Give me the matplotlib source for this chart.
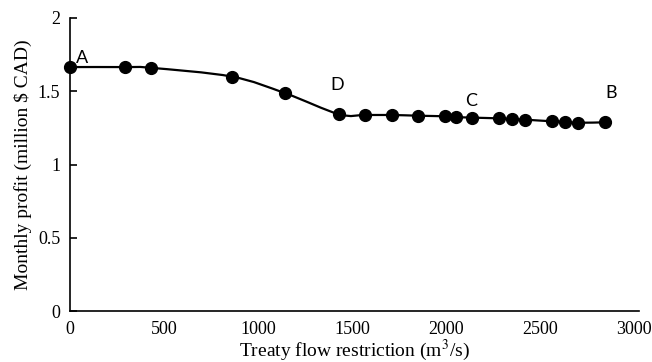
import numpy as np
import matplotlib
matplotlib.use("Agg")
import matplotlib.pyplot as plt
from matplotlib.path import Path
from matplotlib.patches import PathPatch

plt.rcParams["mathtext.fontset"] = "stix"

# data
flow = [0, 290, 430, 860, 1145, 1430, 1570, 1710, 1850, 1995, 2050, 2135,
        2280, 2350, 2420, 2560, 2630, 2700, 2845]
profit = [1.665, 1.665, 1.66, 1.60, 1.486, 1.343, 1.338, 1.338, 1.333, 1.329,
          1.324, 1.320, 1.315, 1.31, 1.306, 1.295, 1.292, 1.285, 1.288]

labels = ["A", "D", "C", "B"]
label_idx = [0, 5, 11, 18]
label_off = [(12, 9), (-2, 29), (0, 17), (6, 29)]

xticks = [0, 500, 1000, 1500, 2000, 2500, 3000]
yticks = [0, 0.5, 1, 1.5, 2]


def smooth_path(x, y, t=1.0 / 6):
    # excel-like smoothed line: cubic bezier through every point
    x = np.asarray(x, float)
    y = np.asarray(y, float)
    verts = [(x[0], y[0])]
    codes = [Path.MOVETO]
    n = len(x)
    for i in range(n - 1):
        p0 = i - 1 if i > 0 else i
        p3 = i + 2 if i + 2 < n else i + 1
        c1 = (x[i] + (x[i + 1] - x[p0]) * t, y[i] + (y[i + 1] - y[p0]) * t)
        c2 = (x[i + 1] - (x[p3] - x[i]) * t, y[i + 1] - (y[p3] - y[i]) * t)
        verts += [c1, c2, (x[i + 1], y[i + 1])]
        codes += [Path.CURVE4] * 3
    return Path(verts, codes)


fig = plt.figure(figsize=(6.52, 3.62), dpi=100)
ax = fig.add_axes([70 / 652, 1 - 311 / 362, 569 / 652, 293 / 362])

ax.add_patch(PathPatch(smooth_path(flow, profit), fill=False, lw=1.6,
                       edgecolor="black", zorder=2))
ax.plot(flow, profit, "o", color="black", ms=8.5, zorder=3, clip_on=False)

for lab, i, off in zip(labels, label_idx, label_off):
    ax.annotate(lab, (flow[i], profit[i]), xytext=off, textcoords="offset pixels",
                fontsize=13, family="Lato", ha="center", va="center")

ax.set_xlim(0, 3025)
ax.set_ylim(0, 2)
ax.set_xticks(xticks)
ax.set_yticks(yticks)
ax.set_xticklabels([str(v) for v in xticks], family="Liberation Serif", fontsize=13)
ax.set_yticklabels(["0", "0.5", "1", "1.5", "2"], family="Liberation Serif", fontsize=13)
ax.tick_params(axis="y", direction="in", length=5, width=1.2, pad=7)
ax.tick_params(axis="x", length=0, pad=7)

for s in ["top", "right"]:
    ax.spines[s].set_visible(False)
for s in ["left", "bottom"]:
    ax.spines[s].set_linewidth(1.2)

ax.set_xlabel("Treaty flow restriction (m$^3$/s)", family="Liberation Serif",
              fontsize=14, labelpad=0)
ax.set_ylabel("Monthly profit (million $ CAD)", family="Liberation Serif",
              fontsize=14, labelpad=4)

fig.savefig("out.png", dpi=100)
